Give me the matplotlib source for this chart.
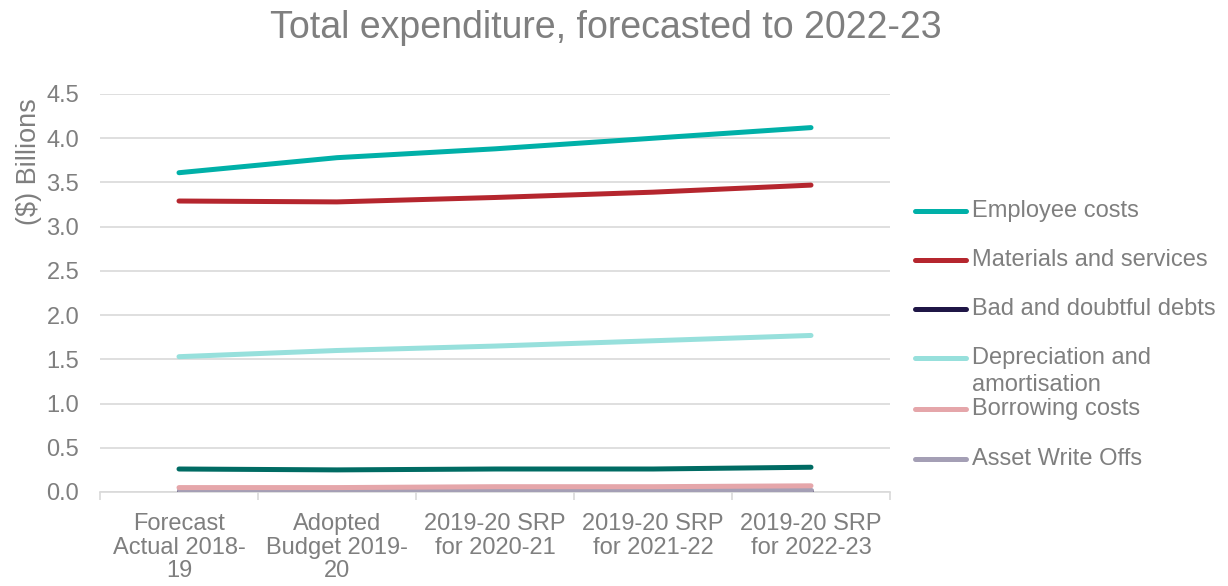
import matplotlib
matplotlib.use("Agg")
import matplotlib.pyplot as plt
from matplotlib.lines import Line2D
import numpy as np

plt.rcParams['font.family'] = ['Liberation Sans', 'DejaVu Sans']

categories = ["Forecast\nActual 2018-\n19", "Adopted\nBudget 2019-\n20",
              "2019-20 SRP\nfor 2020-21", "2019-20 SRP\nfor 2021-22", "2019-20 SRP\nfor 2022-23"]

employee_costs = [3.61, 3.78, 3.88, 4.00, 4.12]
materials_services = [3.29, 3.28, 3.33, 3.39, 3.47]
bad_doubtful_debts = [0.01, 0.01, 0.01, 0.01, 0.01]
depreciation = [1.53, 1.60, 1.65, 1.71, 1.77]
borrowing_costs = [0.05, 0.05, 0.06, 0.06, 0.07]
asset_write_offs = [0.02, 0.02, 0.02, 0.02, 0.02]
other_expenses = [0.26, 0.25, 0.26, 0.26, 0.28]

series = [
    ("Employee costs", employee_costs, "#00b0a8"),
    ("Materials and services", materials_services, "#b5262e"),
    ("Bad and doubtful debts", bad_doubtful_debts, "#1f1646"),
    ("Depreciation and\namortisation", depreciation, "#97e0dc"),
    ("Borrowing costs", borrowing_costs, "#e5a6aa"),
    ("Asset Write Offs", asset_write_offs, "#a49fb5"),
]
other = ("Other expenses", other_expenses, "#006b63")

grey = "#7f7f7f"
W, H = 1228, 586
fig = plt.figure(figsize=(W / 100, H / 100), dpi=100)
ax = fig.add_axes([100 / W, 1 - 492 / H, 790 / W, 398 / H])

x = np.arange(len(categories))
lw = 3.6
ax.plot(x, other[1], color=other[2], lw=lw, solid_capstyle='round', zorder=3)
for name, vals, col in [series[2], series[5], series[4], series[3], series[1], series[0]]:
    ax.plot(x, vals, color=col, lw=lw, solid_capstyle='round', zorder=3)

ax.set_xlim(-0.5, len(categories) - 0.5)
ax.set_ylim(0, 4.5)
ax.set_yticks(np.arange(0, 4.51, 0.5))
ax.set_yticklabels([f"{v:.1f}" for v in np.arange(0, 4.51, 0.5)])
ax.yaxis.grid(True, color="#d9d9d9", lw=1.2)
ax.set_axisbelow(True)
ax.tick_params(axis='y', length=0, labelsize=17, labelcolor=grey, pad=15)
ax.set_xticks(x)
ax.set_xticklabels(categories, fontsize=17, color=grey, linespacing=1.1)
ax.tick_params(axis='x', which='major', length=0, pad=15)
ax.set_xticks(np.arange(-0.5, len(categories)), minor=True)
ax.tick_params(axis='x', which='minor', length=6, color="#d9d9d9", width=1.2)
for s in ['top', 'right', 'left']:
    ax.spines[s].set_visible(False)
ax.spines['bottom'].set_color("#d9d9d9")
ax.spines['bottom'].set_linewidth(1.2)

ax.set_ylabel("($) Billions", fontsize=19.5, color=grey)
ax.yaxis.set_label_coords(-0.073, 0.83)

fig.text(606 / W, 1 - 28 / H, "Total expenditure, forecasted to 2022-23",
         ha='center', va='center', fontsize=27, color=grey)

ys = [211, 260, 309, 358, 409, 459]
for (name, vals, col), yy in zip(series, ys):
    fy = 1 - yy / H
    fig.add_artist(Line2D([915 / W, 966 / W], [fy, fy], color=col, lw=lw,
                          solid_capstyle='round', transform=fig.transFigure))
    lines = name.split("\n")
    for i, ln in enumerate(lines):
        fig.text(972 / W, 1 - (yy + i * 27) / H, ln, ha='left', va='center',
                 fontsize=17, color=grey)

fig.savefig("out.png", dpi=100)
